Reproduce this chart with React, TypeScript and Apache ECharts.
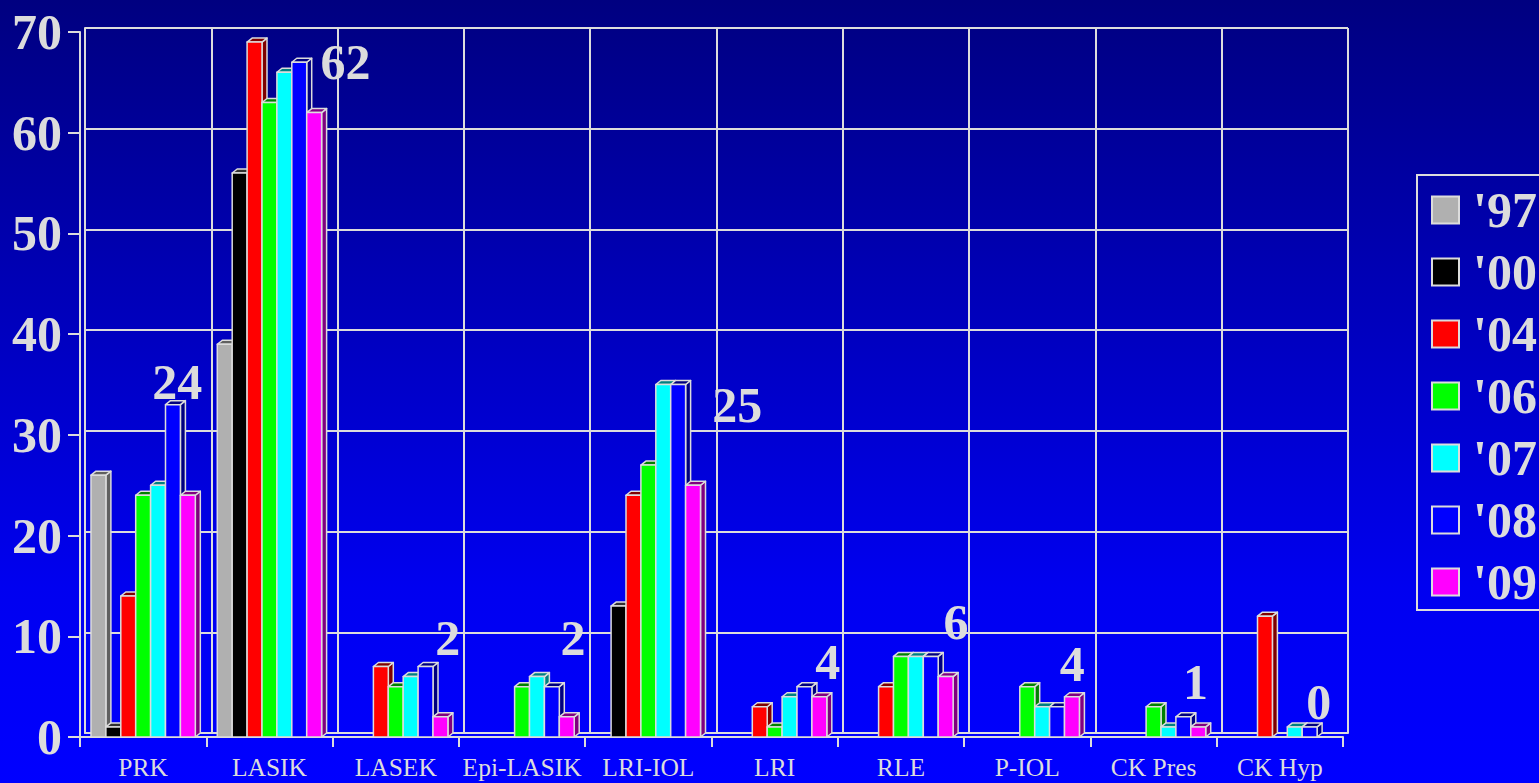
import React, { useEffect, useRef } from "react";
import * as echarts from "echarts";

const categories = ["PRK", "LASIK", "LASEK", "Epi-LASIK", "LRI-IOL", "LRI", "RLE", "P-IOL", "CK Pres", "CK Hyp"];
const years = ["'97", "'00", "'04", "'06", "'07", "'08", "'09"];

const y97 = [26, 39, 0, 0, 0, 0, 0, 0, 0, 0];
const y00 = [1, 56, 0, 0, 13, 0, 0, 0, 0, 0];
const y04 = [14, 69, 7, 0, 24, 3, 5, 0, 0, 12];
const y06 = [24, 63, 5, 5, 27, 1, 8, 5, 3, 0];
const y07 = [25, 66, 6, 6, 35, 4, 8, 3, 1, 1];
const y08 = [33, 67, 7, 5, 35, 5, 8, 3, 2, 1];
const y09 = [24, 62, 2, 2, 25, 4, 6, 4, 1, 0];
const seriesValues = [y97, y00, y04, y06, y07, y08, y09];

// annotation (latest-year value) anchor heights in axis units
const annotHeights = [35.2, 67, 9.8, 9.8, 33, 7.4, 11.4, 7.2, 5.5, 3.5];

const Y_MIN = 0;
const Y_MAX = 70;
const Y_STEP = 10;

// styles
const frontColors = ["#b0b0b0", "#000000", "#ff0000", "#00ff00", "#00ffff", "#0000ff", "#ff00ff"];
const darkColors = ["#606060", "#303030", "#800000", "#008000", "#008080", "#000080", "#800080"];
const annotShiftPx = [34, 76, 52, 51, 89, 53, 55, 45, 42, 39];
const LINE = "#dcdcdc";
const FONT = "'Liberation Serif', 'Times New Roman', serif";
const BIG = 50;
const DX = 5;
const DY = 4;

function makeRenderItem(si: number) {
  return (params: any, api: any) => {
    const c = api.value(0);
    const v = api.value(1);
    if (!(v > 0)) return null;
    const band = api.size([1, 0])[0];
    const bw = band * 0.118;
    const base = api.coord([c, 0]);
    const top = api.coord([c, v]);
    const x0 = base[0] - bw * 3.5 + si * bw;
    const x1 = x0 + bw;
    const yt = top[1];
    const yb = base[1];
    const stroke = { stroke: LINE, lineWidth: 1.5, lineJoin: "round" };
    return {
      type: "group",
      children: [
        {
          type: "polygon",
          shape: { points: [[x1, yt], [x1 + DX, yt - DY], [x1 + DX, yb - DY], [x1, yb]] },
          style: { fill: darkColors[si], ...stroke },
        },
        {
          type: "polygon",
          shape: { points: [[x0, yt], [x0 + DX, yt - DY], [x1 + DX, yt - DY], [x1, yt]] },
          style: { fill: darkColors[si], ...stroke },
        },
        {
          type: "rect",
          shape: { x: x0, y: yt, width: bw, height: yb - yt },
          style: { fill: frontColors[si], ...stroke },
        },
      ],
    };
  };
}

export default function App() {
  const ref = useRef<HTMLDivElement>(null);
  useEffect(() => {
    if (!ref.current) return;
    const chart = echarts.init(ref.current, undefined, { renderer: "svg" });
    const barSeries = years.map((y, si) => ({
      name: y,
      type: "custom",
      xAxisIndex: 1,
      yAxisIndex: 1,
      itemStyle: { color: frontColors[si] },
      renderItem: makeRenderItem(si),
      data: seriesValues[si].map((v, c) => [c, v]),
      z: 3,
    }));
    const latest = seriesValues[seriesValues.length - 1];
    const annot = {
      type: "scatter",
      xAxisIndex: 1,
      yAxisIndex: 1,
      symbolSize: 0,
      silent: true,
      z: 5,
      itemStyle: { opacity: 1 },
      data: latest.map((v, c) => ({
        value: [c, annotHeights[c]],
        label: { offset: [annotShiftPx[c], 0] },
      })),
      label: {
        show: true,
        position: "inside",
        formatter: (p: any) => String(latest[p.dataIndex]),
        color: LINE,
        opacity: 1,
        fontFamily: FONT,
        fontWeight: "bold",
        fontSize: BIG,
      },
    };
    chart.setOption({
      animation: false,
      backgroundColor: new echarts.graphic.LinearGradient(0, 0, 0, 1, [
        { offset: 0, color: "#000080" },
        { offset: 0.75, color: "#0000f0" },
        { offset: 1, color: "#0000ff" },
      ]),
      legend: {
        data: years,
        orient: "vertical",
        left: 1417,
        top: 175,
        padding: [10, 30, 3, 14],
        itemGap: 12,
        itemWidth: 27,
        itemHeight: 27,
        icon: "rect",
        borderColor: LINE,
        borderWidth: 2,
        itemStyle: { borderColor: LINE, borderWidth: 2 },
        textStyle: {
          color: LINE,
          fontFamily: FONT,
          fontWeight: "bold",
          fontSize: BIG,
          padding: [0, 0, 0, 9],
        },
      },
      grid: [
        { left: 85, right: 191, top: 28, bottom: 50 },
        { left: 80, right: 196, top: 32, bottom: 46 },
      ],
      xAxis: [
        {
          type: "category",
          gridIndex: 0,
          data: categories,
          axisLine: { show: true, lineStyle: { color: LINE, width: 2 } },
          axisTick: { show: false },
          axisLabel: { show: false },
          splitLine: { show: true, interval: 0, lineStyle: { color: LINE, width: 2 } },
        },
        {
          type: "category",
          gridIndex: 1,
          data: categories,
          axisLine: { show: true, lineStyle: { color: LINE, width: 2 } },
          axisTick: { show: true, interval: 0, length: 10, lineStyle: { color: LINE, width: 2 } },
          axisLabel: { interval: 0, color: LINE, fontFamily: FONT, fontSize: 25.5, margin: 17 },
          splitLine: { show: false },
        },
      ],
      yAxis: [
        {
          type: "value",
          gridIndex: 0,
          min: Y_MIN,
          max: Y_MAX,
          interval: Y_STEP,
          axisLine: { show: true, lineStyle: { color: LINE, width: 2 } },
          axisTick: { show: false },
          axisLabel: { show: false },
          splitLine: { show: true, lineStyle: { color: LINE, width: 2 } },
        },
        {
          type: "value",
          gridIndex: 1,
          min: Y_MIN,
          max: Y_MAX,
          interval: Y_STEP,
          axisLine: { show: true, lineStyle: { color: LINE, width: 2 } },
          axisTick: { show: true, length: 12, lineStyle: { color: LINE, width: 2 } },
          axisLabel: { color: LINE, fontFamily: FONT, fontWeight: "bold", fontSize: BIG, margin: 18 },
          splitLine: { show: false },
        },
      ],
      series: [...barSeries, annot],
    });
    return () => chart.dispose();
  }, []);
  return (
    <div
      ref={ref}
      style={{ position: "fixed", left: 0, top: 0, width: 1539, height: 783 }}
    />
  );
}
